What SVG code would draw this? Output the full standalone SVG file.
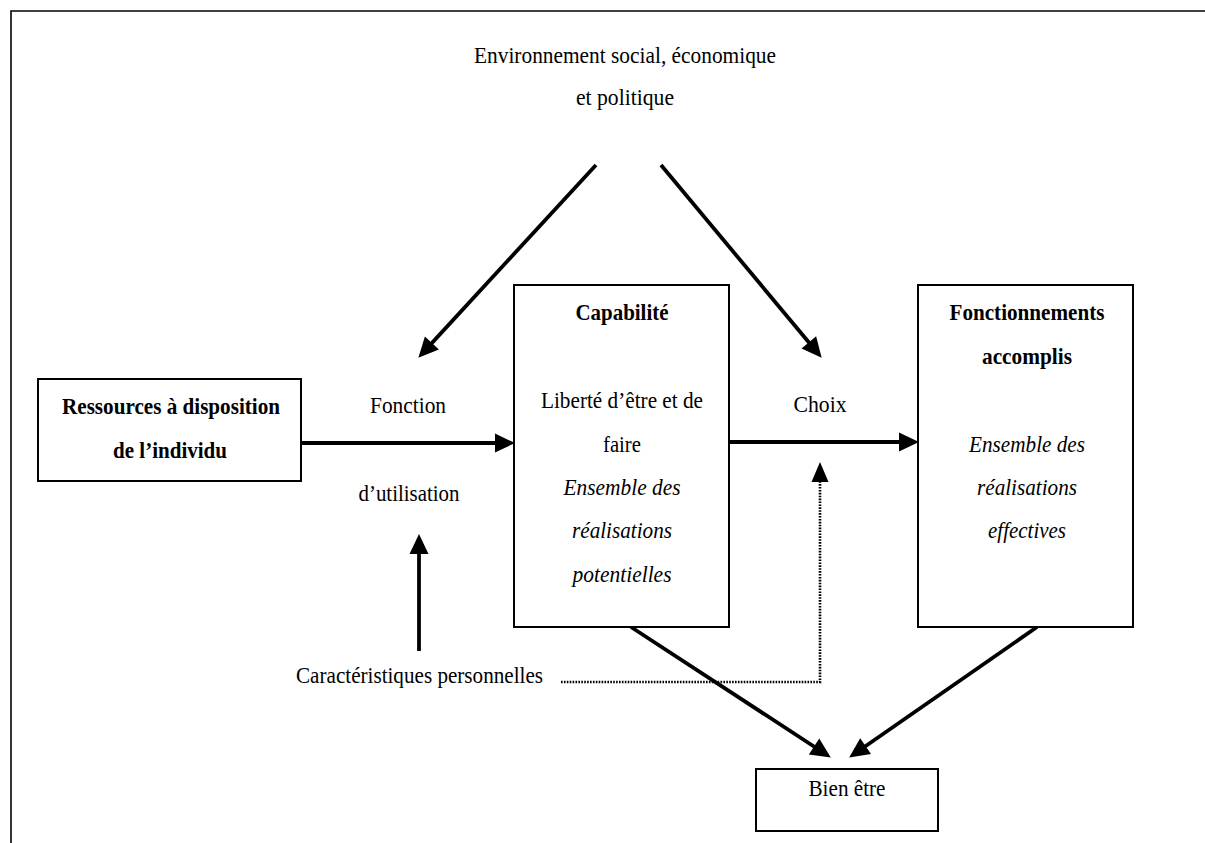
<svg xmlns="http://www.w3.org/2000/svg" width="1205" height="843" viewBox="0 0 1205 843">
<style>
text{font-family:"Liberation Serif","Times New Roman",serif;font-size:23px;fill:#000}
.c{text-anchor:middle}
.b{font-weight:bold}
.i{font-style:italic}
.box{fill:#fff;stroke:#000;stroke-width:2}
.arr{fill:none;stroke:#000;stroke-width:3.8;marker-end:url(#ah)}
.dot{fill:none;stroke:#000;stroke-width:2.6;stroke-dasharray:1.6 1.3}
</style>
<defs>
<marker id="ah" markerUnits="userSpaceOnUse" markerWidth="22" markerHeight="22" refX="9" refY="9.5" orient="auto" overflow="visible">
<path d="M0,0 L20,9.5 L0,19 z" fill="#000"/>
</marker>
<marker id="ahd" markerUnits="userSpaceOnUse" markerWidth="22" markerHeight="22" refX="9" refY="8.5" orient="auto" overflow="visible">
<path d="M0,0 L20,8.5 L0,17 z" fill="#000"/>
</marker>
</defs>
<rect width="1205" height="843" fill="#fff"/>
<g id="frame">
<path d="M11,843 L11,11 L1205,11" fill="none" stroke="#000" stroke-width="1.6"/>
</g>
<g id="environnement">
<text class="c" x="625" y="63" textLength="302" lengthAdjust="spacingAndGlyphs">Environnement social, économique</text>
<text class="c" x="625" y="105" textLength="98" lengthAdjust="spacingAndGlyphs">et politique</text>
</g>
<g id="connectors">
<line class="arr" x1="302" y1="443" x2="504" y2="443"/>
<line class="arr" x1="729" y1="442" x2="908" y2="442"/>
<line class="arr" x1="596" y1="165" x2="425.8" y2="349.6"/>
<line class="arr" x1="661" y1="165" x2="814.6" y2="349.3"/>
<line class="arr" x1="419" y1="651" x2="419" y2="545"/>
<polyline class="dot" points="561,682 820,682 820,473" marker-end="url(#ahd)"/>
<line class="arr" x1="631" y1="627" x2="821.6" y2="751.5"/>
<line class="arr" x1="1037" y1="627" x2="858.2" y2="751.3"/>
</g>
<g id="ressources">
<rect class="box" x="38" y="379" width="263" height="102"/>
<text class="c b" x="171" y="414" textLength="218" lengthAdjust="spacingAndGlyphs">Ressources à disposition</text>
<text class="c b" x="170" y="458" textLength="114" lengthAdjust="spacingAndGlyphs">de l’individu</text>
</g>
<g id="fonction-utilisation">
<text class="c" x="408" y="413" textLength="76" lengthAdjust="spacingAndGlyphs">Fonction</text>
<text class="c" x="409" y="501" textLength="101" lengthAdjust="spacingAndGlyphs">d’utilisation</text>
</g>
<g id="capabilite">
<rect class="box" x="514" y="285" width="215" height="342"/>
<text class="c b" x="622" y="320" textLength="93" lengthAdjust="spacingAndGlyphs">Capabilité</text>
<text class="c" x="622" y="408" textLength="162" lengthAdjust="spacingAndGlyphs">Liberté d’être et de</text>
<text class="c" x="622" y="452" textLength="38" lengthAdjust="spacingAndGlyphs">faire</text>
<text class="c i" x="622" y="495" textLength="117" lengthAdjust="spacingAndGlyphs">Ensemble des</text>
<text class="c i" x="622" y="538" textLength="100" lengthAdjust="spacingAndGlyphs">réalisations</text>
<text class="c i" x="622" y="582" textLength="99" lengthAdjust="spacingAndGlyphs">potentielles</text>
</g>
<g id="choix">
<text class="c" x="820" y="412" textLength="53" lengthAdjust="spacingAndGlyphs">Choix</text>
</g>
<g id="fonctionnements">
<rect class="box" x="918" y="285" width="215" height="342"/>
<text class="c b" x="1027" y="320" textLength="155" lengthAdjust="spacingAndGlyphs">Fonctionnements</text>
<text class="c b" x="1027" y="364" textLength="90" lengthAdjust="spacingAndGlyphs">accomplis</text>
<text class="c i" x="1027" y="452" textLength="116" lengthAdjust="spacingAndGlyphs">Ensemble des</text>
<text class="c i" x="1027" y="495" textLength="100" lengthAdjust="spacingAndGlyphs">réalisations</text>
<text class="c i" x="1027" y="538" textLength="78" lengthAdjust="spacingAndGlyphs">effectives</text>
</g>
<g id="caracteristiques">
<text x="296" y="683" textLength="247" lengthAdjust="spacingAndGlyphs">Caractéristiques personnelles</text>
</g>
<g id="bien-etre">
<rect class="box" x="756" y="769" width="182" height="62"/>
<text class="c" x="847" y="796" textLength="77" lengthAdjust="spacingAndGlyphs">Bien être</text>
</g>
</svg>
